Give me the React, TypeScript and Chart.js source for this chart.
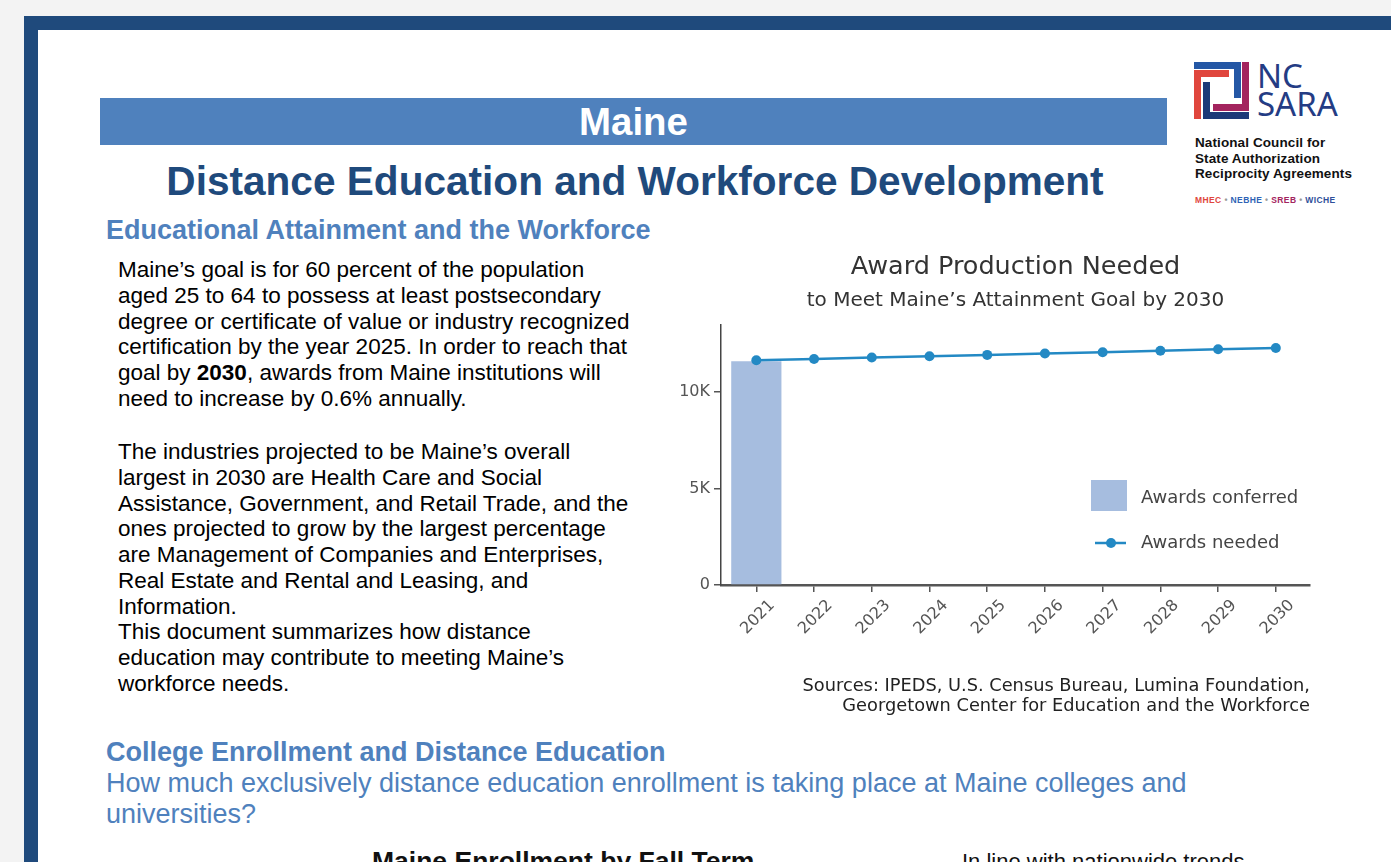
import React, { useEffect, useRef } from "react";
import { Chart, registerables } from "chart.js";

Chart.register(...registerables);

// ---- data ----
const years = ["2021", "2022", "2023", "2024", "2025", "2026", "2027", "2028", "2029", "2030"];
const awardsConferred = [11600, null, null, null, null, null, null, null, null, null];
const awardsNeeded = [11650, 11720, 11790, 11860, 11930, 12000, 12070, 12140, 12220, 12290];
const yTickValues = [0, 5000, 10000];
const yTickLabels = ["0", "5K", "10K"];

const CHART_FONT = "'DejaVu Sans', Verdana, sans-serif";
const BAR_COLOR = "#a6bddf";
const LINE_COLOR = "#2389c4";

const insideLegend = {
  id: "insideLegend",
  afterDatasetsDraw(chart: any) {
    const { ctx, chartArea } = chart;
    const bar = chart.data.datasets.find((d: any) => d.type === "bar");
    const line = chart.data.datasets.find((d: any) => d.type === "line");
    const bx = chartArea.right - 219;
    const b = chartArea.bottom;
    ctx.save();
    ctx.fillStyle = bar.backgroundColor;
    ctx.fillRect(bx, b - 105, 36, 31);
    ctx.font = "18px " + CHART_FONT;
    ctx.fillStyle = "#444";
    ctx.textBaseline = "middle";
    ctx.textAlign = "left";
    ctx.fillText(bar.label, bx + 50, b - 87);
    ctx.strokeStyle = line.borderColor;
    ctx.lineWidth = 2.5;
    ctx.beginPath();
    ctx.moveTo(bx + 4, b - 42);
    ctx.lineTo(bx + 35, b - 42);
    ctx.stroke();
    ctx.fillStyle = line.backgroundColor;
    ctx.beginPath();
    ctx.arc(bx + 20, b - 42, 5, 0, Math.PI * 2);
    ctx.fill();
    ctx.fillStyle = "#444";
    ctx.fillText(line.label, bx + 50, b - 42);
    ctx.restore();
  },
};

function AwardChart() {
  const ref = useRef<HTMLCanvasElement | null>(null);
  useEffect(() => {
    if (!ref.current) return;
    const yearNums = years.map((y) => Number(y));
    const lineData = yearNums.map((x, i) => ({ x, y: awardsNeeded[i] }));
    const barData = yearNums
      .map((x, i) => (awardsConferred[i] == null ? null : { x, y: awardsConferred[i] }))
      .filter((p) => p !== null);
    const chart = new Chart(ref.current, {
      type: "bar",
      data: {
        datasets: [
          {
            type: "line",
            label: "Awards needed",
            data: lineData,
            borderColor: LINE_COLOR,
            backgroundColor: LINE_COLOR,
            borderWidth: 2.5,
            pointRadius: 5,
            pointHoverRadius: 5,
            pointBorderWidth: 0,
            order: 0,
          } as any,
          {
            type: "bar",
            label: "Awards conferred",
            data: barData,
            backgroundColor: BAR_COLOR,
            barPercentage: 0.87,
            categoryPercentage: 1,
            order: 1,
          } as any,
        ],
      },
      options: {
        responsive: false,
        animation: false,
        layout: { padding: { left: 0, right: 30, top: 0, bottom: 0 } },
        plugins: {
          legend: { display: false },
          tooltip: { enabled: false },
          title: {
            display: true,
            fullSize: false,
            text: "Award Production Needed",
            color: "#333",
            font: { family: CHART_FONT, size: 25.5, weight: "normal", lineHeight: 1.2 },
            padding: { top: 7.5, bottom: 2 },
          },
          subtitle: {
            display: true,
            fullSize: false,
            text: "to Meet Maine\u2019s Attainment Goal by 2030",
            color: "#333",
            font: { family: CHART_FONT, size: 20, weight: "normal", lineHeight: 1.2 },
            padding: { top: 3.5, bottom: 12 },
          },
        },
        scales: {
          x: {
            type: "linear",
            min: 2020.388,
            max: 2030.592,
            offset: false,
            afterFit: (s: any) => {
              s.height = 90;
            },
            afterBuildTicks: (s: any) => {
              s.ticks = yearNums.map((v) => ({ value: v }));
            },
            grid: {
              display: true,
              drawOnChartArea: false,
              drawTicks: true,
              tickLength: 7,
              offset: false,
              color: "#555",
              lineWidth: 1.5,
            },
            border: { display: true, color: "#555", width: 2.5 },
            ticks: {
              color: "#555",
              font: { family: CHART_FONT, size: 16 },
              minRotation: 45,
              maxRotation: 45,
              padding: 4,
              labelOffset: 16,
              autoSkip: false,
              callback: (v: any) => {
                const i = yearNums.indexOf(Number(v));
                return i >= 0 ? years[i] : "";
              },
            },
          },
          y: {
            type: "linear",
            min: 0,
            max: 13500,
            afterFit: (s: any) => {
              s.width = 61;
            },
            afterBuildTicks: (s: any) => {
              s.ticks = yTickValues.map((v) => ({ value: v }));
            },
            grid: {
              display: true,
              drawOnChartArea: false,
              drawTicks: true,
              tickLength: 7,
              color: "#555",
              lineWidth: 1.5,
            },
            border: { display: true, color: "#444", width: 1.5 },
            ticks: {
              color: "#555",
              font: { family: CHART_FONT, size: 16 },
              padding: 4,
              callback: (v: any) => {
                const i = yTickValues.indexOf(Number(v));
                return i >= 0 ? yTickLabels[i] : "";
              },
            },
          },
        },
      },
      plugins: [insideLegend],
    });
    return () => chart.destroy();
  }, []);
  return (
    <canvas
      ref={ref}
      width={680}
      height={430}
      style={{ position: "absolute", left: 660, top: 245, width: 680, height: 430 }}
    />
  );
}

function Logo() {
  return (
    <div style={{ position: "absolute", left: 1194, top: 62, width: 190, height: 150 }}>
      <svg width={56} height={57} style={{ position: "absolute", left: 0, top: 0 }}>
        <rect x={0} y={0} width={46} height={7} fill="#2457a5" />
        <rect x={40} y={0} width={7} height={36} fill="#2457a5" />
        <rect x={0} y={8} width={35} height={7} fill="#e0463d" />
        <rect x={0} y={8} width={7} height={49} fill="#e0463d" />
        <rect x={48} y={0} width={7} height={49} fill="#a3245e" />
        <rect x={19} y={42} width={36} height={7} fill="#a3245e" />
        <rect x={9} y={50} width={46} height={7} fill="#1d3a78" />
        <rect x={9} y={20} width={7} height={37} fill="#1d3a78" />
      </svg>
      <div
        style={{
          position: "absolute",
          left: 63,
          top: -4,
          fontFamily: "'Noto Sans', sans-serif",
          fontSize: 33,
          lineHeight: "28px",
          paddingTop: 4,
          color: "#243c84",
          letterSpacing: 0,
        }}
      >
        NC
        <br />
        SARA
      </div>
      <div
        style={{
          position: "absolute",
          left: 1,
          top: 73,
          fontFamily: "'Liberation Sans', Arial, sans-serif",
          fontWeight: "bold",
          fontSize: 13.5,
          lineHeight: "15.5px",
          color: "#111",
          letterSpacing: 0.1,
          whiteSpace: "nowrap",
        }}
      >
        National Council for
        <br />
        State Authorization
        <br />
        Reciprocity Agreements
      </div>
      <div
        style={{
          position: "absolute",
          left: 1,
          top: 133,
          fontFamily: "'Liberation Sans', Arial, sans-serif",
          fontWeight: "bold",
          fontSize: 8.5,
          letterSpacing: 0.4,
          whiteSpace: "nowrap",
          color: "#999",
        }}
      >
        <span style={{ color: "#e0463d" }}>MHEC</span> • <span style={{ color: "#2f63b5" }}>NEBHE</span> •{" "}
        <span style={{ color: "#a3245e" }}>SREB</span> • <span style={{ color: "#2f4f9a" }}>WICHE</span>
      </div>
    </div>
  );
}

export default function App() {
  const arial = "'Liberation Sans', Arial, Helvetica, sans-serif";
  const body: React.CSSProperties = {
    position: "absolute",
    left: 118,
    fontFamily: arial,
    fontSize: 22.5,
    lineHeight: "25.75px",
    color: "#000",
    whiteSpace: "nowrap",
  };
  return (
    <div
      style={{
        position: "absolute",
        left: 0,
        top: 0,
        width: 1391,
        height: 862,
        overflow: "hidden",
        background: "#f3f3f3",
        fontFamily: arial,
      }}
    >
      <div
        style={{
          position: "absolute",
          left: 24,
          top: 16,
          width: 1500,
          height: 1000,
          background: "#fff",
          border: "14px solid #1f4a7c",
          boxSizing: "border-box",
        }}
      />
      <div
        style={{
          position: "absolute",
          left: 100,
          top: 98,
          width: 1067,
          height: 47,
          background: "#4f81bd",
          color: "#fff",
          fontWeight: "bold",
          fontSize: 38.4,
          lineHeight: "47px",
          textAlign: "center",
        }}
      >
        Maine
      </div>
      <div
        style={{
          position: "absolute",
          left: 100,
          top: 157,
          width: 1070,
          textAlign: "center",
          color: "#1f4a7c",
          fontWeight: "bold",
          fontSize: 40.6,
          lineHeight: "48px",
          whiteSpace: "nowrap",
        }}
      >
        Distance Education and Workforce Development
      </div>
      <div
        style={{
          position: "absolute",
          left: 106,
          top: 214,
          color: "#4f81bd",
          fontWeight: "bold",
          fontSize: 27,
          lineHeight: "32px",
          whiteSpace: "nowrap",
        }}
      >
        Educational Attainment and the Workforce
      </div>
      <div style={{ ...body, top: 257 }}>
        Maine’s goal is for 60 percent of the population
        <br />
        aged 25 to 64 to possess at least postsecondary
        <br />
        degree or certificate of value or industry recognized
        <br />
        certification by the year 2025. In order to reach that
        <br />
        goal by <b>2030</b>, awards from Maine institutions will
        <br />
        need to increase by 0.6% annually.
      </div>
      <div style={{ ...body, top: 439 }}>
        The industries projected to be Maine’s overall
        <br />
        largest in 2030 are Health Care and Social
        <br />
        Assistance, Government, and Retail Trade, and the
        <br />
        ones projected to grow by the largest percentage
        <br />
        are Management of Companies and Enterprises,
        <br />
        Real Estate and Rental and Leasing, and
        <br />
        Information.
        <br />
        This document summarizes how distance
        <br />
        education may contribute to meeting Maine’s
        <br />
        workforce needs.
      </div>

      <AwardChart />

      <div
        style={{
          position: "absolute",
          right: 1391 - 1310,
          top: 675,
          textAlign: "right",
          fontFamily: CHART_FONT,
          fontSize: 17.8,
          lineHeight: "19.5px",
          color: "#222",
          whiteSpace: "nowrap",
        }}
      >
        Sources: IPEDS, U.S. Census Bureau, Lumina Foundation,
        <br />
        Georgetown Center for Education and the Workforce
      </div>

      <Logo />

      <div
        style={{
          position: "absolute",
          left: 106,
          top: 737,
          color: "#4f81bd",
          fontWeight: "bold",
          fontSize: 27,
          lineHeight: "31px",
          whiteSpace: "nowrap",
        }}
      >
        College Enrollment and Distance Education
      </div>
      <div
        style={{
          position: "absolute",
          left: 106,
          top: 768,
          color: "#4f81bd",
          fontSize: 27,
          lineHeight: "31px",
          whiteSpace: "nowrap",
        }}
      >
        How much exclusively distance education enrollment is taking place at Maine colleges and
        <br />
        universities?
      </div>
      <div
        style={{
          position: "absolute",
          left: 372,
          top: 846,
          color: "#111",
          fontWeight: "bold",
          fontSize: 26.5,
          lineHeight: "30px",
          whiteSpace: "nowrap",
        }}
      >
        Maine Enrollment by Fall Term
      </div>
      <div
        style={{
          position: "absolute",
          left: 962,
          top: 849,
          color: "#111",
          fontSize: 22,
          lineHeight: "26px",
          whiteSpace: "nowrap",
        }}
      >
        In line with nationwide trends,
      </div>
    </div>
  );
}
